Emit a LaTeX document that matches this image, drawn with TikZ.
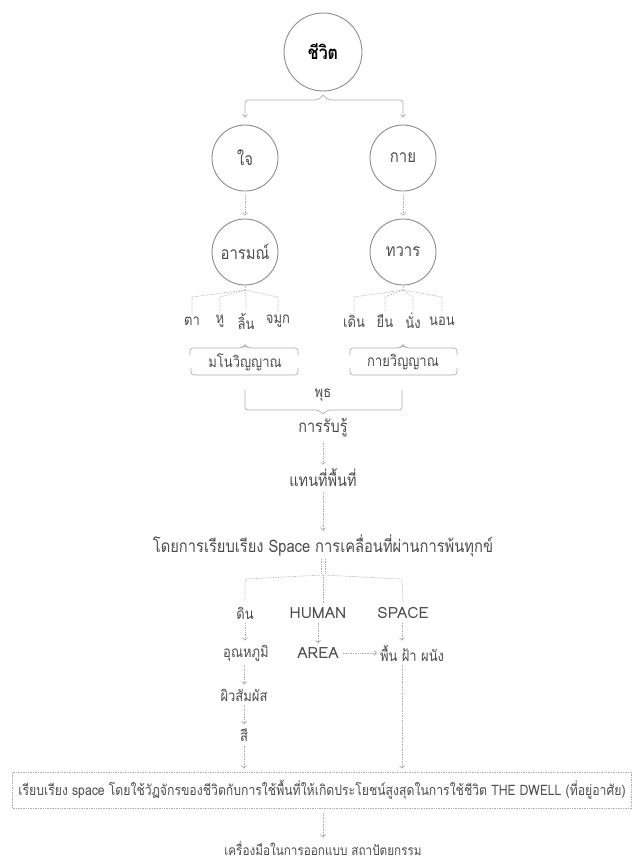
\documentclass[tikz,border=0pt]{standalone}
\usepackage{fontspec}
\setmainfont[Script=Thai, FakeStretch=0.85]{Loma}
\newfontfamily\latinface{Loma}
\usetikzlibrary{arrows.meta}
\definecolor{linegray}{HTML}{ADADAD}
\definecolor{ringgray}{HTML}{8C8C8C}
\definecolor{txt}{HTML}{4D4D4D}
\newcommand{\fs}[1]{\fontsize{#1}{#1}\selectfont}
\tikzset{
  ring/.style={circle, draw=ringgray, line width=0.9pt, minimum size=66pt, inner sep=0pt, text=txt, font=\fs{17.5}},
  lbl/.style={text=txt, font=\fs{15.3}, inner sep=1pt},
  lat/.style={text=txt, font=\latinface\fs{15.5}, inner sep=1pt},
  big/.style={text=txt, font=\fs{17}, inner sep=1pt},
  dotline/.style={draw=linegray, densely dotted, line width=0.7pt},
  bracket/.style={draw=linegray, line width=0.7pt, rounded corners=3pt},
  tip/.style={-{Straight Barb[length=2.5pt,width=5pt]}},
}
\begin{document}
\begin{tikzpicture}[x=1pt,y=-1pt]
\useasboundingbox (0,0) rectangle (638,862);

% --- circles
\node[ring, minimum size=78pt, text=black, font=\fs{18.8}\bfseries] (life) at (323,52) {ชีวิต};
\node[ring] (mind) at (245,158) {ใจ};
\node[ring] (body) at (403,158) {กาย};
\node[ring] (emo)  at (245,252) {อารมณ์};
\node[ring] (door) at (403,252) {ทวาร};

% --- split from life into mind and body
\coordinate (cusp) at (323,95);
\draw[bracket, tip] (cusp) -- (318,100) -| ([yshift=7pt]mind.north);
\draw[bracket, tip] (cusp) -- (328,100) -| ([yshift=7pt]body.north);

\draw[dotline, tip] ([yshift=-4pt]mind.south) -- ([yshift=3pt]emo.north);
\draw[dotline, tip] ([yshift=-4pt]body.south) -- ([yshift=3pt]door.north);

% --- senses and postures
\node[lbl] (ta)  at (192,321) {ตา};
\node[lbl] (hu)  at (220,321) {หู};
\node[lbl] (lin) at (246,321) {ลิ้น};
\node[lbl] (jm)  at (278,321) {จมูก};
\node[lbl] (dn)  at (354,321) {เดิน};
\node[lbl] (yn)  at (385,321) {ยืน};
\node[lbl] (ng)  at (413,321) {นั่ง};
\node[lbl] (nn)  at (442,321) {นอน};

\coordinate (ea) at (245,290);
\coordinate (da) at (403,290);
\draw[dotline] (emo.south) -- (ea);
\draw[dotline] (door.south) -- (da);
\foreach \n in {ta,hu,lin,jm} \draw[dotline] (ea) -- (\n.north |- 0,297) -- ([yshift=2pt]\n.north);
\foreach \n in {dn,yn,ng,nn} \draw[dotline] (da) -- (\n.north |- 0,297) -- ([yshift=2pt]\n.north);

% --- consciousness groups
\node[lbl] (mano) at (245,362) {มโนวิญญาณ};
\node[lbl] (kaya) at (403,362) {กายวิญญาณ};
\draw[bracket] (190,355) -- (190,348) -- (242,348) -- (245,345) -- (248,348) -- (298,348) -- (298,355);
\draw[bracket] (191,368) -- (191,375) -- (298,375) -- (298,368);
\draw[bracket] (350,355) -- (350,348) -- (400,348) -- (403,345) -- (406,348) -- (457,348) -- (457,355);
\draw[bracket] (350,368) -- (350,375) -- (457,375) -- (457,368);

% --- joining brace
\node[lbl] (phut) at (323,395) {พุธ};
\draw[bracket] (245,390) -- (245,410) -- (319,410) -- (323,415) -- (327,410) -- (402,410) -- (402,390);

\node[big] (perc) at (323,428) {การรับรู้};
\node[big] (place) at (323,478) {แทนที่พื้นที่};
\node[big, font=\fs{17.3}] (arr) at (323,546) {โดยการเรียบเรียง Space การเคลื่อนที่ผ่านการพ้นทุกข์};
\draw[dotline, tip] ([yshift=-4pt]perc.south) -- ([yshift=3pt]place.north);
\draw[dotline, tip] ([yshift=-4pt]place.south) -- ([yshift=3pt]arr.north);

% --- three branches
\node[lbl] (soil)  at (245,613) {ดิน};
\node[lat] (human) at (318,613) {HUMAN};
\node[lat] (space) at (403,613) {SPACE};
\coordinate (sa) at (323,575);
\draw[dotline] (321,559) -- (321,574);
\draw[dotline] (325,559) -- (325,574);
\draw[dotline, rounded corners=3pt] (sa) -- (245,579) -- ([yshift=4pt]soil.north);
\draw[dotline, rounded corners=3pt] (sa) -- (402,579) -- ([yshift=4pt]space.north);
\draw[dotline] (sa) -- ([yshift=4pt]human.north -| sa);

\node[lbl] (temp)  at (246,653) {อุณหภูมิ};
\node[lat] (area)  at (318,653) {AREA};
\node[lbl] (walls) at (412,653) {พื้น ฝ้า ผนัง};
\draw[dotline, tip] ([yshift=-3pt]soil.south) -- ([yshift=3pt]temp.north -| soil.south);
\draw[dotline, tip] ([yshift=-3pt]human.south) -- ([yshift=3pt]area.north -| human.south);
\draw[dotline, tip] ([yshift=-3pt]space.south -| 402,0) -- ([yshift=3pt]walls.north -| 402,0);
\draw[dotline, tip] ([xshift=3pt]area.east) -- ([xshift=-2pt]walls.west);

\node[lbl] (skin) at (244,695) {ผิวสัมผัส};
\node[lbl] (color) at (244,735) {สี};
\draw[dotline, tip] ([yshift=-3pt]temp.south -| skin.north) -- ([yshift=3pt]skin.north);
\draw[dotline, tip] ([yshift=-3pt]skin.south) -- ([yshift=3pt]color.north);

% --- summary box
\node[draw=linegray, densely dotted, line width=0.7pt, minimum width=619pt, minimum height=36pt, inner sep=0pt, text=txt, font=\fs{14.4}] (dwell) at (322,790)
  {เรียบเรียง space โดยใช้วัฏจักรของชีวิตกับการใช้พื้นที่ให้เกิดประโยชน์สูงสุดในการใช้ชีวิต THE DWELL (ที่อยู่อาศัย)};
\draw[dotline, tip] ([yshift=-3pt]color.south) -- ([yshift=3pt]dwell.north -| color.south);
\draw[dotline, tip] ([yshift=-3pt]walls.south -| 402,0) -- ([yshift=3pt]dwell.north -| 402,0);

\node[lbl, font=\fs{13.8}] (tool) at (323,848) {เครื่องมือในการออกแบบ สถาปัตยกรรม};
\draw[dotline, tip] ([yshift=-5pt]dwell.south -| tool.north) -- ([yshift=2pt]tool.north);
\end{tikzpicture}
\end{document}
